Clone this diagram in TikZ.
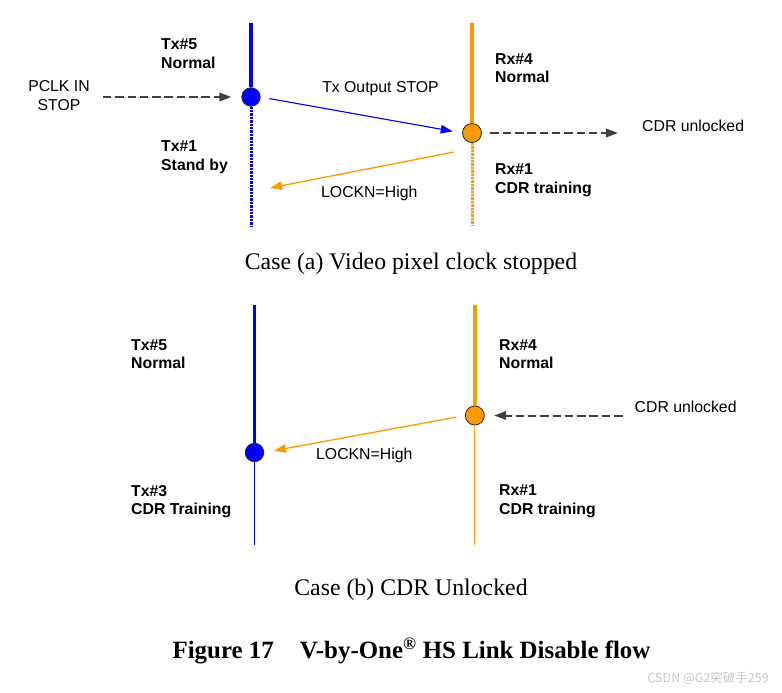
\documentclass[tikz,border=0pt]{standalone}
\usepackage{fontspec}
\setmainfont{Liberation Serif}
\newfontfamily\arial{Liberation Sans}
\newfontfamily\cjk{Noto Sans CJK SC}
\usetikzlibrary{arrows.meta}
\definecolor{orng}{HTML}{FF9900}
\definecolor{dgray}{HTML}{404040}
\definecolor{wmgray}{HTML}{C8C8C8}
\begin{document}
\begin{tikzpicture}[x=1pt,y=-1pt,
  lbl/.style={font=\arial\fontsize{15.8}{18.6}\selectfont, inner sep=0pt, align=left},
  blbl/.style={lbl, font=\arial\bfseries\fontsize{15.8}{18.6}\selectfont},
  capt/.style={font=\fontsize{23.8}{26}\selectfont, inner sep=0pt},
  txdotnode/.style={circle, draw=black!85, line width=0.8pt, fill=blue, minimum size=18.5pt, inner sep=0pt},
  rxdotnode/.style={circle, draw=black!85, line width=0.8pt, fill=orng, minimum size=19pt, inner sep=0pt},
  txthick/.style={draw=blue, line width=3.6pt},
  rxthick/.style={draw=orng, line width=3.6pt},
  txdotted/.style={draw=blue, line width=3pt, dash pattern=on 2.4pt off 1pt},
  rxdotted/.style={draw=orng, line width=3pt, dash pattern=on 2.4pt off 1pt},
  txthin/.style={draw=blue, line width=1.3pt},
  rxthin/.style={draw=orng, line width=1.3pt},
  tip/.style={-{Triangle[length=12pt,width=8.5pt]}},
  darr/.style={tip, draw=dgray, fill=dgray, line width=2pt, dash pattern=on 8.5pt off 3.8pt},
  barr/.style={tip, draw=blue, fill=blue, line width=1.1pt},
  oarr/.style={tip, draw=orng, fill=orng, line width=1.3pt}
]
\useasboundingbox (0,0) rectangle (782,693);

% ---------------- Case (a) ----------------
\node[txdotnode] (t1) at (251,97) {};
\node[rxdotnode] (r1) at (472,133) {};
\coordinate (tx1top) at (251,23);
\coordinate (tx1bot) at (251,226);
\coordinate (rx1top) at (472,23);
\coordinate (rx1bot) at (472,226);
\draw[txthick] (tx1top) -- (t1.north);
\draw[txdotted] (t1.south) -- (tx1bot);
\draw[rxthick] (rx1top) -- (r1.north);
\draw[rxdotted] (r1.south) -- (rx1bot);

\node[blbl, anchor=west] (tx5a) at (161,53.5) {Tx\#5\\Normal};
\node[blbl, anchor=west] (tx1a) at (161,157) {Tx\#1\\Stand by};
\node[blbl, anchor=west] (rx4a) at (495,68) {Rx\#4\\Normal};
\node[blbl, anchor=west] (rx1a) at (495,180) {Rx\#1\\CDR training};
\node[lbl, align=center] (pclk) at (59,95.5) {PCLK IN\\STOP};
\node[lbl] (txstop) at (380.5,89) {Tx Output STOP};
\node[lbl, anchor=west] (lockna) at (321,193) {LOCKN=High};
\node[lbl, anchor=west] (cdra) at (642,126) {CDR unlocked};

\draw[darr, shorten <=13pt, shorten >=10pt] (pclk.east |- t1) -- (t1.west);
\draw[barr, shorten <=9pt, shorten >=9.5pt] (t1.east) -- (r1.west);
\coordinate (lkas) at (454,152);
\coordinate (lkae) at (270,188);
\draw[oarr] (lkas) -- (lkae);
\draw[darr, shorten <=8.5pt, shorten >=24pt] (r1.east) -- (cdra.west |- r1);

\node[capt] (capa) at (411,264) {Case (a) Video pixel clock stopped};

% ---------------- Case (b) ----------------
\node[txdotnode] (t2) at (254.5,452.5) {};
\node[rxdotnode] (r2) at (474.8,415.5) {};
\coordinate (tx2top) at (254.5,305);
\coordinate (tx2bot) at (254.5,545);
\coordinate (rx2top) at (474.8,305);
\coordinate (rx2bot) at (474.8,545);
\draw[txthick] (tx2top) -- (t2.north);
\draw[txthin] (t2.south) -- (tx2bot);
\draw[rxthick] (rx2top) -- (r2.north);
\draw[rxthin] (r2.south) -- (rx2bot);

\node[blbl, anchor=west] (tx5b) at (131,354) {Tx\#5\\Normal};
\node[blbl, anchor=west] (tx3b) at (131,501.5) {Tx\#3\\CDR Training};
\node[blbl, anchor=west] (rx4b) at (499,354) {Rx\#4\\Normal};
\node[blbl, anchor=west] (rx1b) at (499,501.5) {Rx\#1\\CDR training};
\node[lbl, anchor=west] (cdrb) at (634.5,407) {CDR unlocked};
\node[lbl, anchor=west] (locknb) at (316,455.5) {LOCKN=High};

\draw[darr, shorten <=12pt, shorten >=9.5pt] (cdrb.west |- r2) -- (r2.east);
\draw[oarr, shorten <=8.5pt, shorten >=10pt] (r2.west) -- (t2.east);

\node[capt] (capb) at (411,589.5) {Case (b) CDR Unlocked};

% ---------------- Figure title ----------------
\node[font=\bfseries\fontsize{24.9}{27}\selectfont, inner sep=0pt] (fig) at (411.5,651)
  {Figure 17\hspace{26pt}V-by-One\textsuperscript{®} HS Link Disable flow};

\node[font=\cjk\fontsize{12.5}{14}\selectfont, text=wmgray, inner sep=0pt, anchor=east] (wm) at (769,678) {CSDN @G2突破手259};
\end{tikzpicture}
\end{document}
